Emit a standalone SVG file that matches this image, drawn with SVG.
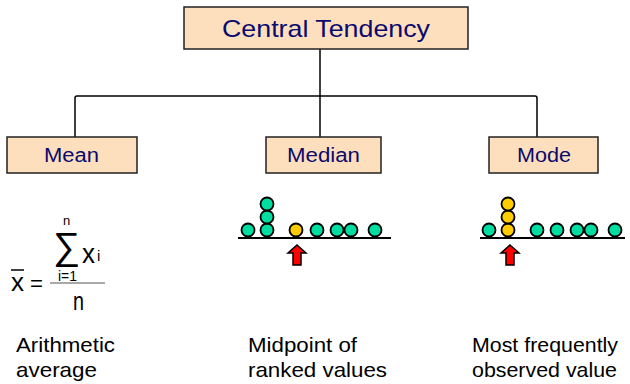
<svg xmlns="http://www.w3.org/2000/svg" width="630" height="384" viewBox="0 0 630 384">
<style>
.box{fill:#FDDFBD;stroke:#222;stroke-width:1.5}
.lbl{font-family:"Liberation Sans",Arial,sans-serif;fill:#0A0A6E}
.txt{font-family:"Liberation Sans",Arial,sans-serif;fill:#000;font-size:21px}
.conn{fill:none;stroke:#000;stroke-width:1.5}
.g{fill:#00DDA0;stroke:#000;stroke-width:1.8}
.y{fill:#FFCC00;stroke:#000;stroke-width:1.8}
.arr{fill:#FF0000;stroke:#000;stroke-width:1.5;stroke-linejoin:miter}
.axis{stroke:#000;stroke-width:2}
</style>
<defs>
<path id="up" d="M0,0 L9,8 L4,8 L4,20 L-4,20 L-4,8 L-9,8 Z"/>
</defs>
<g id="connectors">
<path class="conn" d="M320,49 V96"/>
<path class="conn" d="M75,137 V98 Q75,96 77,96 H535 Q537,96 537,98 V137"/>
<path class="conn" d="M320,96 V137"/>
</g>
<g id="central">
<rect class="box" x="184" y="7" width="284" height="42"/>
<text class="lbl" x="222" y="37" font-size="24" textLength="208" lengthAdjust="spacingAndGlyphs">Central Tendency</text>
</g>
<g id="mean">
<rect class="box" x="7" y="137" width="130" height="36"/>
<text class="lbl" x="44" y="162" font-size="20" textLength="55" lengthAdjust="spacingAndGlyphs">Mean</text>
</g>
<g id="median">
<rect class="box" x="266" y="137" width="115" height="36"/>
<text class="lbl" x="287" y="162" font-size="20" textLength="73" lengthAdjust="spacingAndGlyphs">Median</text>
</g>
<g id="mode">
<rect class="box" x="489" y="137" width="109" height="36"/>
<text class="lbl" x="517" y="162" font-size="20" textLength="54" lengthAdjust="spacingAndGlyphs">Mode</text>
</g>
<g id="formula" font-family="Liberation Sans,Arial,sans-serif" fill="#000">
<text x="11" y="291" font-size="26" textLength="13" lengthAdjust="spacingAndGlyphs">x</text>
<line x1="11" y1="270" x2="24" y2="270" stroke="#000" stroke-width="1.5"/>
<text x="30" y="291" font-size="22" textLength="13" lengthAdjust="spacingAndGlyphs">=</text>
<line x1="50" y1="283" x2="105" y2="283" stroke="#555" stroke-width="1.2"/>
<text x="53" y="259" font-size="38">∑</text>
<text x="63" y="225" font-size="13">n</text>
<text x="58" y="281" font-size="14" textLength="19" lengthAdjust="spacingAndGlyphs">i=1</text>
<text x="82" y="263" font-size="28" textLength="13" lengthAdjust="spacingAndGlyphs">x</text>
<text x="97" y="261" font-size="15">i</text>
<text x="73" y="310" font-size="26" textLength="11" lengthAdjust="spacingAndGlyphs">n</text>
</g>
<g id="median-plot">
<line class="axis" x1="238" y1="238" x2="391" y2="238"/>
<circle class="g" cx="248" cy="230" r="6.5"/>
<circle class="g" cx="267" cy="230" r="6.5"/>
<circle class="g" cx="267" cy="217" r="6.5"/>
<circle class="g" cx="267" cy="204" r="6.5"/>
<circle class="y" cx="296" cy="230" r="6.5"/>
<circle class="g" cx="317" cy="230" r="6.5"/>
<circle class="g" cx="337" cy="230" r="6.5"/>
<circle class="g" cx="351" cy="230" r="6.5"/>
<circle class="g" cx="375" cy="230" r="6.5"/>
<use href="#up" class="arr" x="297" y="245"/>
</g>
<g id="mode-plot">
<line class="axis" x1="480" y1="238" x2="625" y2="238"/>
<circle class="g" cx="489" cy="230" r="6.5"/>
<circle class="y" cx="508" cy="230" r="6.5"/>
<circle class="y" cx="508" cy="217" r="6.5"/>
<circle class="y" cx="508" cy="204" r="6.5"/>
<circle class="g" cx="537" cy="230" r="6.5"/>
<circle class="g" cx="557" cy="230" r="6.5"/>
<circle class="g" cx="577" cy="230" r="6.5"/>
<circle class="g" cx="591" cy="230" r="6.5"/>
<circle class="g" cx="615" cy="230" r="6.5"/>
<use href="#up" class="arr" x="510" y="245"/>
</g>
<g id="captions">
<text class="txt" x="16" y="352" textLength="99" lengthAdjust="spacingAndGlyphs">Arithmetic</text>
<text class="txt" x="16" y="377" textLength="81" lengthAdjust="spacingAndGlyphs">average</text>
<text class="txt" x="248" y="352" textLength="109" lengthAdjust="spacingAndGlyphs">Midpoint of</text>
<text class="txt" x="248" y="377" textLength="139" lengthAdjust="spacingAndGlyphs">ranked values</text>
<text class="txt" x="472" y="352" textLength="146" lengthAdjust="spacingAndGlyphs">Most frequently</text>
<text class="txt" x="472" y="377" textLength="145" lengthAdjust="spacingAndGlyphs">observed value</text>
</g>
</svg>
